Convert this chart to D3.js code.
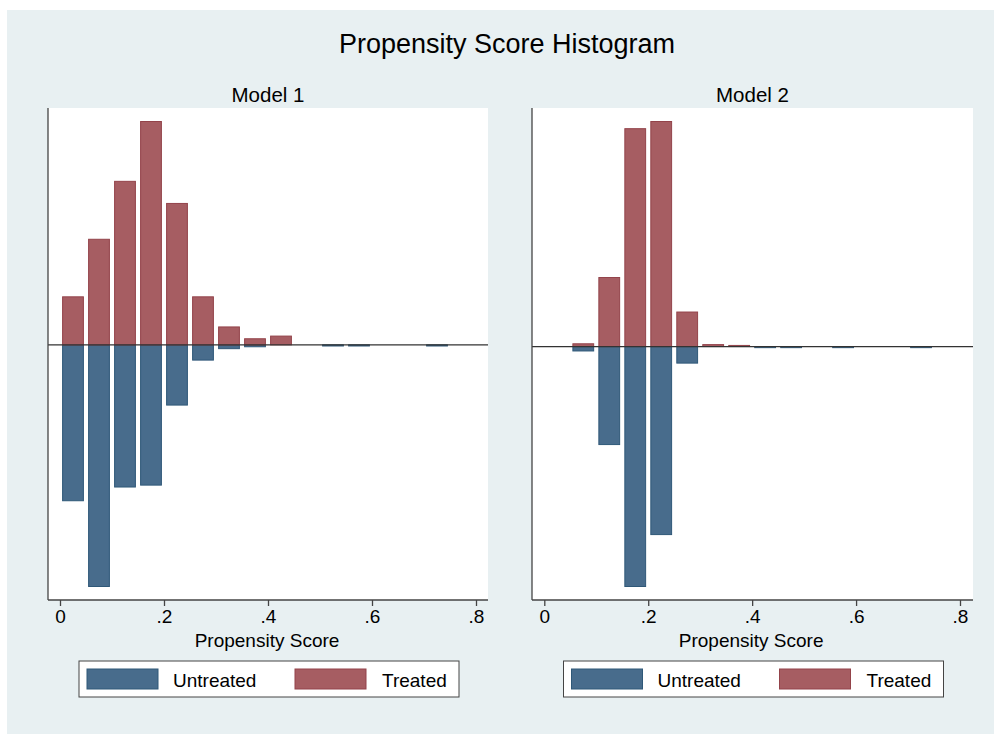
<!DOCTYPE html>
<html>
<head>
<meta charset="utf-8">
<script src="https://cdn.jsdelivr.net/npm/d3@7"></script>
<style>
  html, body { margin: 0; padding: 0; background: #ffffff; }
  svg { display: block; }
  text { font-family: "Liberation Sans", Arial, Helvetica, sans-serif; fill: #000; }
</style>
</head>
<body>
<svg id="chart" width="994" height="734"></svg>
<script>
// Bin midpoints (bin width 0.05) and densities per model
const binMid = [0.025, 0.075, 0.125, 0.175, 0.225, 0.275, 0.325, 0.375, 0.425, 0.475, 0.525, 0.575, 0.625, 0.675, 0.725];
const model1Treated   = [1.26, 2.77, 4.29, 5.86, 3.71, 1.26, 0.47, 0.16, 0.23, 0, 0, 0, 0, 0, 0];
const model1Untreated = [4.09, 6.34, 3.73, 3.68, 1.58, 0.40, 0.10, 0.05, 0, 0, 0.03, 0.03, 0, 0, 0.03];
const model2Treated   = [0, 0.10, 2.50, 7.89, 8.15, 1.25, 0.07, 0.04, 0, 0, 0, 0, 0, 0, 0];
const model2Untreated = [0, 0.16, 3.55, 8.69, 6.81, 0.60, 0, 0, 0.04, 0.04, 0, 0.04, 0, 0, 0.04];
const xTicks = [0, 0.2, 0.4, 0.6, 0.8];
const panelTitles = ["Model 1", "Model 2"];
const legendLabels = ["Untreated", "Treated"];
const barWidth = 0.04;

const colors = {
  untreatedFill: "#486c8c", untreatedLine: "#2f5878",
  treatedFill: "#a65d62",   treatedLine: "#93434a"
};

const svg = d3.select("#chart");

// graph background
svg.append("rect").attr("x", 7).attr("y", 10).attr("width", 987).attr("height", 724).attr("fill", "#e8f0f2");

svg.append("text").attr("x", 507).attr("y", 53).attr("text-anchor", "middle")
  .style("font-size", "27px").text("Propensity Score Histogram");

const panels = [
  { title: panelTitles[0], treated: model1Treated, untreated: model1Untreated, left: 48, right: 488, x0: 60, x8: 476 },
  { title: panelTitles[1], treated: model2Treated, untreated: model2Untreated, left: 532, right: 973, x0: 544.3, x8: 960 }
];

const plotTop = 108, plotBottom = 600, pad = 13.5;

panels.forEach(p => {
  const g = svg.append("g");
  const x = d3.scaleLinear().domain([0, 0.8]).range([p.x0, p.x8]);
  const yMax = d3.max(p.treated);
  const yMin = -d3.max(p.untreated);
  const y = d3.scaleLinear().domain([yMin, yMax]).range([plotBottom - pad, plotTop + pad]);

  // plot region
  g.append("rect").attr("x", p.left).attr("y", plotTop)
    .attr("width", p.right - p.left).attr("height", plotBottom - plotTop).attr("fill", "#ffffff");

  const cx = (p.left + p.right) / 2;
  g.append("text").attr("x", cx).attr("y", 102).attr("text-anchor", "middle")
    .style("font-size", "20.5px").text(p.title);

  // untreated bars hang below zero
  const ubars = binMid.map((m, i) => ({ m, v: p.untreated[i] })).filter(d => d.v > 0);
  g.selectAll(".u").data(ubars).join("rect").attr("class", "u")
    .attr("x", d => x(d.m - barWidth / 2))
    .attr("width", d => x(d.m + barWidth / 2) - x(d.m - barWidth / 2))
    .attr("y", y(0))
    .attr("height", d => Math.max(1, y(-d.v) - y(0)))
    .attr("fill", colors.untreatedFill).attr("stroke", colors.untreatedLine).attr("stroke-width", 1);

  // treated bars rise above zero
  const tbars = binMid.map((m, i) => ({ m, v: p.treated[i] })).filter(d => d.v > 0);
  g.selectAll(".t").data(tbars).join("rect").attr("class", "t")
    .attr("x", d => x(d.m - barWidth / 2))
    .attr("width", d => x(d.m + barWidth / 2) - x(d.m - barWidth / 2))
    .attr("y", d => Math.min(y(d.v), y(0) - 1))
    .attr("height", d => Math.max(1, y(0) - y(d.v)))
    .attr("fill", colors.treatedFill).attr("stroke", colors.treatedLine).attr("stroke-width", 1);

  // zero reference line
  g.append("line").attr("x1", p.left).attr("x2", p.right)
    .attr("y1", y(0)).attr("y2", y(0)).attr("stroke", "#333").attr("stroke-width", 1.2);

  // left axis line
  g.append("line").attr("x1", p.left).attr("x2", p.left)
    .attr("y1", plotTop).attr("y2", plotBottom).attr("stroke", "#444").attr("stroke-width", 1.3);

  // x axis
  const xAxis = d3.axisBottom(x).tickValues(xTicks).tickSize(6).tickPadding(4)
    .tickFormat(d => d === 0 ? "0" : d3.format(".1f")(d).replace(/^0/, ""));
  const ax = g.append("g").attr("transform", `translate(0,${plotBottom})`).call(xAxis);
  ax.select(".domain").remove();
  ax.selectAll(".tick line").attr("stroke", "#444").attr("stroke-width", 1.3);
  ax.selectAll(".tick text").style("font-size", "19px").attr("fill", "#000")
    .attr("font-family", "Liberation Sans, Arial, sans-serif");
  g.append("line").attr("x1", p.left).attr("x2", p.right)
    .attr("y1", plotBottom).attr("y2", plotBottom).attr("stroke", "#444").attr("stroke-width", 1.3);

  g.append("text").attr("x", x(0.4) - 1).attr("y", 647).attr("text-anchor", "middle")
    .style("font-size", "19px").text("Propensity Score");

  // legend
  const lx = cx - 189, ly = 661;
  g.append("rect").attr("x", lx).attr("y", ly).attr("width", 380).attr("height", 36)
    .attr("fill", "#fff").attr("stroke", "#444").attr("stroke-width", 1);
  const keys = [
    { dx: 8, tx: 94, fill: colors.untreatedFill, line: colors.untreatedLine, label: legendLabels[0] },
    { dx: 216, tx: 303, fill: colors.treatedFill, line: colors.treatedLine, label: legendLabels[1] }
  ];
  keys.forEach(k => {
    g.append("rect").attr("x", lx + k.dx).attr("y", ly + 8).attr("width", 71).attr("height", 20)
      .attr("fill", k.fill).attr("stroke", k.line).attr("stroke-width", 1);
    g.append("text").attr("x", lx + k.tx).attr("y", ly + 26).style("font-size", "19px").text(k.label);
  });
});
</script>
</body>
</html>
